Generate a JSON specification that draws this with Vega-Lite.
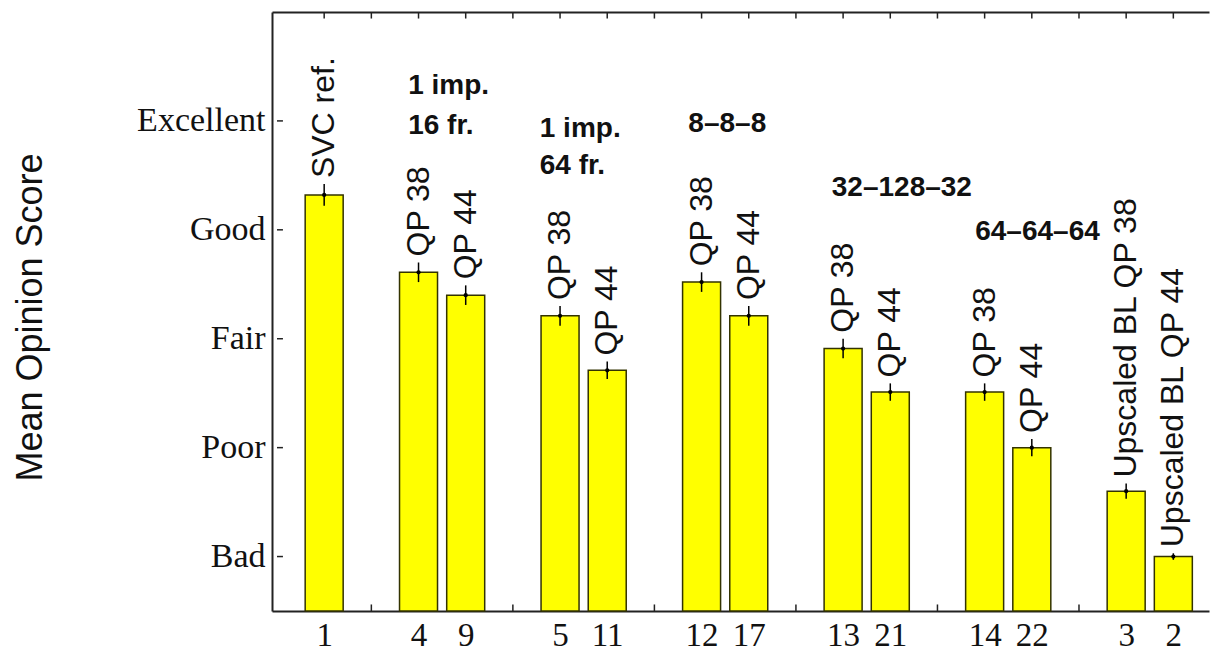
{
  "$schema": "https://vega.github.io/schema/vega-lite/v6.json",
  "autosize": {"type": "none"},
  "padding": {"left": 272, "top": 12, "right": 1, "bottom": 52},
  "width": 937,
  "height": 599,
  "background": "white",
  "config": {
    "view": {"stroke": null},
    "axis": {"grid": false, "domainColor": "#222", "domainWidth": 2, "ticks": false}
  },
  "datasets": {
    "bars": [
      {"p": 1, "cond": "1", "mos": 4.32, "lo": 4.22, "hi": 4.42, "label": "SVC ref."},
      {"p": 3, "cond": "4", "mos": 3.61, "lo": 3.52, "hi": 3.70, "label": "QP 38"},
      {"p": 4, "cond": "9", "mos": 3.40, "lo": 3.31, "hi": 3.49, "label": "QP 44"},
      {"p": 6, "cond": "5", "mos": 3.21, "lo": 3.12, "hi": 3.30, "label": "QP 38"},
      {"p": 7, "cond": "11", "mos": 2.71, "lo": 2.63, "hi": 2.79, "label": "QP 44"},
      {"p": 9, "cond": "12", "mos": 3.52, "lo": 3.43, "hi": 3.61, "label": "QP 38"},
      {"p": 10, "cond": "17", "mos": 3.21, "lo": 3.12, "hi": 3.30, "label": "QP 44"},
      {"p": 12, "cond": "13", "mos": 2.91, "lo": 2.82, "hi": 3.00, "label": "QP 38"},
      {"p": 13, "cond": "21", "mos": 2.51, "lo": 2.43, "hi": 2.59, "label": "QP 44"},
      {"p": 15, "cond": "14", "mos": 2.51, "lo": 2.43, "hi": 2.59, "label": "QP 38"},
      {"p": 16, "cond": "22", "mos": 2.00, "lo": 1.92, "hi": 2.08, "label": "QP 44"},
      {"p": 18, "cond": "3", "mos": 1.60, "lo": 1.53, "hi": 1.67, "label": "Upscaled BL QP 38"},
      {"p": 19, "cond": "2", "mos": 1.00, "lo": 0.97, "hi": 1.03, "label": "Upscaled BL QP 44"}
    ],
    "groups": [
      {"p": 2.78, "v": 5.25, "text": "1 imp."},
      {"p": 2.78, "v": 4.88, "text": "16 fr."},
      {"p": 5.57, "v": 4.85, "text": "1 imp."},
      {"p": 5.57, "v": 4.51, "text": "64 fr."},
      {"p": 8.72, "v": 4.90, "text": "8–8–8"},
      {"p": 11.76, "v": 4.31, "text": "32–128–32"},
      {"p": 14.80, "v": 3.91, "text": "64–64–64"}
    ],
    "yticks": [{"v": 1}, {"v": 2}, {"v": 3}, {"v": 4}, {"v": 5}],
    "topticks": [
      {"p": 1}, {"p": 2}, {"p": 3}, {"p": 4}, {"p": 5}, {"p": 6}, {"p": 7}, {"p": 8}, {"p": 9}, {"p": 10},
      {"p": 11}, {"p": 12}, {"p": 13}, {"p": 14}, {"p": 15}, {"p": 16}, {"p": 17}, {"p": 18}, {"p": 19}
    ],
    "bottomticks": [{"p": 2}, {"p": 5}, {"p": 8}, {"p": 11}, {"p": 14}, {"p": 17}]
  },
  "layer": [
    {
      "data": {"name": "bars"},
      "mark": {"type": "bar", "width": 38, "fill": "#ffff00", "stroke": "#333300", "strokeWidth": 1.5},
      "encoding": {
        "x": {
          "field": "p", "type": "quantitative",
          "scale": {"domain": [0, 19.65], "nice": false, "zero": false},
          "axis": {
            "orient": "bottom", "title": null, "values": [1, 3, 4, 6, 7, 9, 10, 12, 13, 15, 16, 18, 19],
            "labelPadding": 8,
            "labelExpr": "['','1','','4','9','','5','11','','12','17','','13','21','','14','22','','3','2'][datum.value]",
            "labelFont": "Liberation Serif", "labelFontSize": 33, "labelColor": "#111"
          }
        },
        "y": {
          "field": "mos", "type": "quantitative",
          "scale": {"domain": [0.5, 6], "nice": false, "zero": false},
          "axis": {
            "values": [1, 2, 3, 4, 5], "labelPadding": 7,
            "labelExpr": "['','Bad','Poor','Fair','Good','Excellent'][datum.value]",
            "labelFont": "Liberation Serif", "labelFontSize": 34, "labelColor": "#111",
            "title": "Mean Opinion Score", "titleFont": "Liberation Sans", "titleFontSize": 36,
            "titleFontWeight": "normal", "titleColor": "#111", "titleAngle": -90,
            "titleX": -242, "titleY": 305, "titleAlign": "center", "titleBaseline": "middle"
          }
        },
        "y2": {"datum": 0.5}
      }
    },
    {
      "data": {"name": "bars"},
      "mark": {"type": "rule", "color": "#000", "strokeWidth": 1.5},
      "encoding": {
        "x": {
          "field": "p", "type": "quantitative",
          "axis": {"orient": "top", "title": null, "labels": false, "ticks": false}
        },
        "y": {"field": "lo", "type": "quantitative", "axis": null},
        "y2": {"field": "hi"}
      }
    },
    {
      "data": {"name": "bars"},
      "mark": {"type": "point", "filled": true, "color": "#000", "size": 18, "opacity": 1},
      "encoding": {
        "x": {"field": "p", "type": "quantitative", "axis": null},
        "y": {"field": "mos", "type": "quantitative", "axis": null}
      }
    },
    {
      "data": {"name": "yticks"},
      "mark": {"type": "rule", "color": "#222", "strokeWidth": 1.5},
      "encoding": {
        "x": {"datum": 0, "type": "quantitative", "axis": null},
        "x2": {"datum": 0.126},
        "y": {"field": "v", "type": "quantitative", "axis": null}
      }
    },
    {
      "data": {"name": "topticks"},
      "mark": {"type": "rule", "color": "#222", "strokeWidth": 1.5},
      "encoding": {
        "x": {"field": "p", "type": "quantitative", "axis": null},
        "y": {"datum": 6, "type": "quantitative", "axis": null},
        "y2": {"datum": 5.94}
      }
    },
    {
      "data": {"name": "bottomticks"},
      "mark": {"type": "rule", "color": "#222", "strokeWidth": 1.5},
      "encoding": {
        "x": {"field": "p", "type": "quantitative", "axis": null},
        "y": {"datum": 0.5, "type": "quantitative", "axis": null},
        "y2": {"datum": 0.56}
      }
    },
    {
      "data": {"name": "bars"},
      "mark": {"type": "text", "angle": 270, "align": "left", "baseline": "middle", "dx": 6, "font": "Liberation Sans", "fontSize": 32, "color": "#111"},
      "encoding": {
        "x": {"field": "p", "type": "quantitative", "axis": null},
        "y": {"field": "hi", "type": "quantitative", "axis": null},
        "text": {"field": "label"}
      }
    },
    {
      "data": {"name": "groups"},
      "mark": {"type": "text", "align": "left", "baseline": "alphabetic", "font": "Liberation Sans", "fontWeight": "bold", "fontSize": 28, "color": "#111"},
      "encoding": {
        "x": {"field": "p", "type": "quantitative", "axis": null},
        "y": {"field": "v", "type": "quantitative", "axis": null},
        "text": {"field": "text"}
      }
    }
  ],
  "resolve": {"axis": {"x": "independent", "y": "independent"}}
}
